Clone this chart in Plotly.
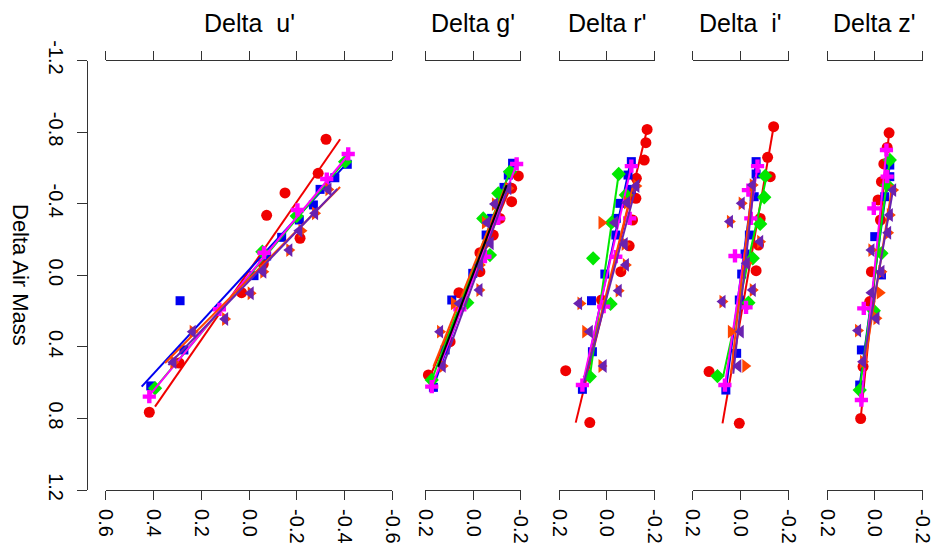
import plotly.graph_objects as go

# ---------------- tick labels ----------------
y_ticks = [-1.2, -0.8, -0.4, 0.0, 0.4, 0.8, 1.2]
y_ticktext = ["-1.2", "-0.8", "-0.4", "0.0", "0.4", "0.8", "1.2"]
u_ticks = [0.6, 0.4, 0.2, 0.0, -0.2, -0.4, -0.6]
u_ticktext = ["0.6", "0.4", "0.2", "0.0", "-0.2", "-0.4", "-0.6"]
s_ticks = [0.2, 0.0, -0.2]
s_ticktext = ["0.2", "0.0", "-0.2"]

panel_titles = ["Delta\u00a0 u'", "Delta g'", "Delta r'", "Delta\u00a0 i'", "Delta z'"]
y_title = "Delta Air Mass"

# ---------------- Delta u' ----------------
u_red_x = [-0.323, -0.29, -0.151, -0.074, -0.214, -0.06, 0.031, 0.293, 0.418]
u_red_y = [-0.76, -0.57, -0.46, -0.335, -0.207, -0.063, 0.097, 0.49, 0.765]
u_red_lx = [0.394, -0.382]
u_red_ly = [0.734, -0.76]
u_blue_x = [-0.412, -0.36, -0.298, -0.27, -0.211, -0.137, -0.074, -0.021, 0.289, 0.273, 0.412]
u_blue_y = [-0.62, -0.545, -0.48, -0.393, -0.309, -0.212, -0.108, 0.002, 0.142, 0.417, 0.618]
u_blue_lx = [0.45, -0.41]
u_blue_ly = [0.622, -0.625]
u_green_x = [-0.403, -0.2, -0.056, 0.394]
u_green_y = [-0.635, -0.331, -0.132, 0.631]
u_green_lx = [0.40, -0.41]
u_green_ly = [0.64, -0.65]
u_mag_x = [-0.416, -0.326, -0.203, -0.063, 0.124, 0.418]
u_mag_y = [-0.678, -0.538, -0.365, -0.126, 0.19, 0.678]
u_mag_lx = [0.418, -0.416]
u_mag_ly = [0.672, -0.672]
u_org_x = [-0.333, -0.277, -0.22, -0.169, -0.06, -0.007, 0.1, 0.236, 0.317]
u_org_y = [-0.48, -0.346, -0.249, -0.141, -0.02, 0.1, 0.244, 0.315, 0.486]
u_org_lx = [0.352, -0.382]
u_org_ly = [0.49, -0.493]
u_pur_x = [-0.333, -0.277, -0.211, -0.169, -0.06, -0.007, 0.1, 0.236, 0.317]
u_pur_y = [-0.48, -0.346, -0.249, -0.141, -0.02, 0.1, 0.244, 0.315, 0.486]
u_pur_lx = [0.338, -0.37]
u_pur_ly = [0.501, -0.482]

# ---------------- Delta g' ----------------
g_red_x = [-0.19, -0.162, -0.162, -0.113, -0.085, -0.029, -0.029, 0.059, 0.096, 0.187]
g_red_y = [-0.555, -0.486, -0.411, -0.318, -0.225, -0.126, -0.02, 0.097, 0.371, 0.557]
g_red_lx = [0.175, -0.16]
g_red_ly = [0.55, -0.5]
g_blue_x = [-0.166, -0.148, -0.13, -0.078, -0.055, 0.001, 0.089, 0.117, 0.166]
g_blue_y = [-0.626, -0.56, -0.491, -0.318, -0.225, -0.011, 0.138, 0.417, 0.626]
g_blue_lx = [0.166, -0.166]
g_blue_ly = [0.622, -0.626]
g_green_x = [-0.155, -0.106, -0.043, -0.071, 0.024, 0.173]
g_green_y = [-0.579, -0.458, -0.318, -0.113, 0.153, 0.585]
g_green_lx = [0.173, -0.16]
g_green_ly = [0.585, -0.6]
g_mag_x = [-0.183, -0.106, -0.05, 0.055, 0.173]
g_mag_y = [-0.622, -0.318, -0.104, 0.19, 0.622]
g_mag_lx = [0.173, -0.18]
g_mag_ly = [0.622, -0.61]
g_org_x = [-0.148, -0.092, -0.05, -0.06, -0.029, -0.027, 0.08, 0.138, 0.127]
g_org_y = [-0.486, -0.398, -0.294, -0.179, -0.058, 0.082, 0.157, 0.315, 0.507]
g_org_lx = [0.166, -0.141]
g_org_ly = [0.51, -0.514]
g_pur_x = [-0.148, -0.092, -0.06, -0.074, -0.029, -0.027, 0.057, 0.138, 0.127]
g_pur_y = [-0.486, -0.398, -0.294, -0.179, -0.058, 0.082, 0.157, 0.315, 0.507]
g_pur_lx = [0.127, -0.148]
g_pur_ly = [0.51, -0.491]
g_blk_lx = [0.146, -0.141]
g_blk_ly = [0.51, -0.504]

# ---------------- Delta r' ----------------
r_red_x = [-0.169, -0.164, -0.157, -0.124, -0.122, -0.108, -0.094, -0.059, 0.022, 0.172, 0.071]
r_red_y = [-0.815, -0.741, -0.644, -0.542, -0.43, -0.309, -0.165, -0.02, 0.138, 0.533, 0.823]
r_red_lx = [0.13, -0.169]
r_red_ly = [0.823, -0.815]
r_blue_x = [-0.103, -0.089, -0.103, -0.055, -0.04, -0.038, 0.008, 0.064, 0.06, 0.102]
r_blue_y = [-0.635, -0.56, -0.48, -0.402, -0.318, -0.225, -0.007, 0.142, 0.427, 0.637]
r_blue_lx = [0.102, -0.1]
r_blue_ly = [0.637, -0.635]
r_green_x = [-0.05, -0.08, -0.02, 0.057, -0.016, 0.071]
r_green_y = [-0.566, -0.449, -0.294, -0.095, 0.16, 0.566]
r_green_lx = [0.071, -0.05]
r_green_ly = [0.566, -0.566]
r_mag_x = [-0.103, -0.096, -0.038, 0.013, 0.102]
r_mag_y = [-0.61, -0.318, -0.104, 0.175, 0.613]
r_mag_lx = [0.102, -0.103]
r_mag_ly = [0.613, -0.61]
r_org_x = [-0.124, -0.085, 0.022, -0.075, -0.08, -0.05, 0.11, 0.09, 0.022]
r_org_y = [-0.499, -0.406, -0.294, -0.175, -0.058, 0.086, 0.157, 0.315, 0.507]
r_org_lx = [0.085, -0.11]
r_org_ly = [0.55, -0.5]
r_pur_x = [-0.124, -0.085, -0.034, -0.075, -0.08, -0.05, 0.116, 0.071, 0.013]
r_pur_y = [-0.499, -0.406, -0.294, -0.175, -0.058, 0.086, 0.157, 0.315, 0.507]
r_pur_lx = [0.095, -0.124]
r_pur_ly = [0.6, -0.5]

# ---------------- Delta i' ----------------
i_red_x = [-0.138, -0.113, -0.124, -0.082, -0.075, -0.065, 0.131, 0.005]
i_red_y = [-0.83, -0.659, -0.551, -0.318, -0.169, -0.026, 0.538, 0.827]
i_red_lx = [0.075, -0.138]
i_red_ly = [0.827, -0.83]
i_blue_x = [-0.065, -0.065, -0.057, -0.037, -0.019, -0.005, 0.005, 0.016, 0.061]
i_blue_y = [-0.635, -0.566, -0.439, -0.225, -0.119, -0.007, 0.138, 0.436, 0.641]
i_blue_lx = [0.061, -0.065]
i_blue_ly = [0.641, -0.635]
i_green_x = [-0.103, -0.099, -0.082, -0.051, -0.033, 0.096]
i_green_y = [-0.555, -0.436, -0.287, -0.095, 0.153, 0.563]
i_green_lx = [0.096, 0.072, -0.11]
i_green_ly = [0.563, 0.563, -0.56]
i_mag_x = [-0.071, -0.033, -0.043, 0.023, -0.023, 0.065]
i_mag_y = [-0.61, -0.476, -0.318, -0.108, 0.179, 0.613]
i_mag_lx = [0.065, -0.071]
i_mag_ly = [0.613, -0.61]
i_org_x = [-0.051, -0.005, 0.044, -0.082, -0.026, -0.051, 0.075, 0.04, -0.02]
i_org_y = [-0.504, -0.402, -0.3, -0.188, -0.067, 0.082, 0.147, 0.315, 0.507]
i_org_lx = [0.04, -0.05]
i_org_ly = [0.55, -0.5]
i_pur_x = [-0.051, -0.005, 0.044, -0.082, -0.026, -0.051, 0.075, -0.001, 0.009]
i_pur_y = [-0.504, -0.402, -0.3, -0.188, -0.067, 0.082, 0.147, 0.315, 0.507]
i_pur_lx = [0.03, -0.06]
i_pur_ly = [0.55, -0.55]

# ---------------- Delta z' ----------------
z_red_x = [-0.06, -0.052, -0.038, -0.028, -0.014, -0.024, 0.014, 0.021, 0.049, 0.059]
z_red_y = [-0.796, -0.714, -0.622, -0.523, -0.421, -0.309, -0.02, 0.147, 0.51, 0.8]
z_red_lx = [0.059, -0.06]
z_red_ly = [0.8, -0.796]
z_blue_x = [-0.063, -0.063, -0.042, 0.0, -0.028, 0.056, 0.063]
z_blue_y = [-0.616, -0.551, -0.439, -0.216, -0.002, 0.417, 0.613]
z_blue_lx = [0.063, -0.063]
z_blue_ly = [0.613, -0.616]
z_green_x = [-0.063, -0.052, -0.028, 0.004, 0.063]
z_green_y = [-0.644, -0.504, -0.123, 0.198, 0.641]
z_green_lx = [0.063, -0.063]
z_green_ly = [0.641, -0.644]
z_mag_x = [-0.049, -0.052, 0.004, 0.046, 0.056]
z_mag_y = [-0.7, -0.551, -0.374, 0.185, 0.697]
z_mag_lx = [0.056, -0.049]
z_mag_ly = [0.697, -0.7]
z_org_x = [-0.077, -0.063, -0.056, 0.014, -0.028, -0.021, -0.007, 0.07, 0.049]
z_org_y = [-0.476, -0.337, -0.238, -0.141, -0.02, 0.097, 0.24, 0.309, 0.483]
z_org_lx = [0.045, -0.07]
z_org_ly = [0.52, -0.47]
z_pur_x = [-0.077, -0.063, -0.056, 0.014, -0.028, 0.014, -0.007, 0.07, 0.049]
z_pur_y = [-0.476, -0.337, -0.238, -0.141, -0.02, 0.097, 0.24, 0.309, 0.483]
z_pur_lx = [0.05, -0.077]
z_pur_ly = [0.5, -0.48]

# ---------------- styles ----------------
FONT = "Liberation Sans, Arial, Helvetica, sans-serif"
styles = {
    "red": dict(color="#f00000", symbol="circle", size=11),
    "blue": dict(color="#0000f0", symbol="square", size=9),
    "green": dict(color="#00e800", symbol="diamond", size=11),
    "mag": dict(color="#ff00ff", symbol="cross", size=11),
    "org": dict(color="#ff4500", symbol="triangle-right", size=12),
    "pur": dict(color="#6a22b0", symbol="triangle-left", size=12),
}
order = ["red", "blue", "green", "mag", "org", "pur"]
panel_keys = ["u", "g", "r", "i", "z"]
axis_ids = ["x", "x2", "x3", "x4", "x5"]

fig = go.Figure()
G = globals()
for pk, ax in zip(panel_keys, axis_ids):
    for s in order:
        st = styles[s]
        fig.add_trace(go.Scatter(
            x=G[f"{pk}_{s}_x"], y=G[f"{pk}_{s}_y"], mode="markers",
            xaxis=ax, yaxis="y", showlegend=False, cliponaxis=False,
            marker=dict(color=st["color"], symbol=st["symbol"], size=st["size"],
                        line=dict(width=0)),
        ))
        fig.add_trace(go.Scatter(
            x=G[f"{pk}_{s}_lx"], y=G[f"{pk}_{s}_ly"], mode="lines",
            xaxis=ax, yaxis="y", showlegend=False, cliponaxis=False,
            line=dict(color=st["color"], width=2),
        ))
    if pk == "g":
        fig.add_trace(go.Scatter(
            x=g_blk_lx, y=g_blk_ly, mode="lines", xaxis=ax, yaxis="y",
            showlegend=False, line=dict(color="black", width=2),
        ))

# page body has an 8px margin: the figure starts at page (8, 8)
OFF = 8
W, H = 941 - OFF, 550 - OFF


def px_x(p):
    return (p - OFF) / W


def px_y(p):
    return 1 - (p - OFF) / H


x_dom_px = [(105.9, 392.1), (425.3, 520.7), (559.0, 654.5), (692.5, 788.5), (827.0, 922.5)]
y_dom = [px_y(490.1), px_y(60.5)]

axis_common = dict(
    showline=True, linecolor="#333333", linewidth=1, ticks="outside",
    tickcolor="#333333", tickwidth=1, showgrid=False, zeroline=False,
    tickangle=90, tickfont=dict(size=20, family=FONT, color="black"),
)

layout = dict(
    width=W, height=H, margin=dict(l=0, r=0, t=0, b=0, pad=0),
    paper_bgcolor="white", plot_bgcolor="white", template="none",
    showlegend=False, font=dict(family=FONT, color="black"),
)
for k, (ax, (a, b)) in enumerate(zip(axis_ids, x_dom_px)):
    name = "xaxis" if k == 0 else f"xaxis{k+1}"
    if k == 0:
        rng, tv, tt = [0.6, -0.6], u_ticks, u_ticktext
    else:
        rng, tv, tt = [0.2, -0.2], s_ticks, s_ticktext
    layout[name] = dict(axis_common, domain=[px_x(a), px_x(b)], range=rng, anchor="y",
                        tickvals=tv, ticktext=tt, mirror="ticks", ticklen=9,
                        ticklabelstandoff=5)
layout["yaxis"] = dict(axis_common, domain=y_dom, range=[1.2, -1.2], anchor="free",
                       position=px_x(87), tickvals=y_ticks, ticktext=y_ticktext, ticklen=10,
                       ticklabelstandoff=4)

annotations = []
for t, (a, b) in zip(panel_titles, x_dom_px):
    annotations.append(dict(text=t, x=px_x((a + b) / 2), y=px_y(23), xref="paper", yref="paper",
                            showarrow=False, xanchor="center", yanchor="middle",
                            font=dict(size=25, family=FONT, color="black")))
annotations.append(dict(text=y_title, x=px_x(21), y=px_y(275), xref="paper", yref="paper",
                        showarrow=False, textangle=90, xanchor="center", yanchor="middle",
                        font=dict(size=22, family=FONT, color="black")))
layout["annotations"] = annotations
layout["shapes"] = [dict(type="line", xref="paper", yref="paper", x0=px_x(939), x1=px_x(939),
                         y0=0, y1=1, line=dict(color="#e4e4e4", width=1))]

fig.update_layout(**layout)
fig.write_html("out.html")
